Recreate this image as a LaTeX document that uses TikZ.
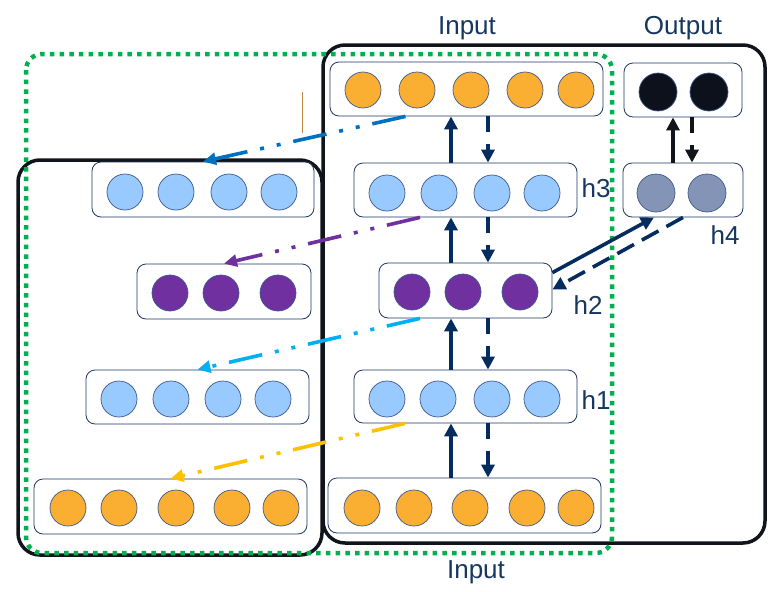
\documentclass[tikz,border=0pt]{standalone}
\usepackage{fontspec}
\setmainfont{Liberation Sans}
\usetikzlibrary{arrows.meta,calc}
\definecolor{orangec}{RGB}{250,174,50}
\definecolor{lbluec}{RGB}{153,202,255}
\definecolor{purplec}{RGB}{112,48,160}
\definecolor{darkc}{RGB}{13,17,28}
\definecolor{greyc}{RGB}{132,148,182}
\definecolor{circc}{RGB}{60,88,138}
\definecolor{boxc}{RGB}{31,56,100}
\definecolor{navyc}{RGB}{4,44,94}
\definecolor{blkc}{RGB}{18,20,28}
\definecolor{greenc}{RGB}{0,176,80}
\definecolor{txtc}{RGB}{23,55,94}
\definecolor{blue1}{RGB}{0,112,192}
\definecolor{blue2}{RGB}{0,176,240}
\definecolor{yellc}{RGB}{255,192,0}
\definecolor{brownc}{RGB}{190,140,60}
\begin{document}
\begin{tikzpicture}[x=1pt,y=-1pt,
  rowbox/.style={draw=boxc, line width=0.8pt, rounded corners=9pt, inner sep=0pt, fill=white},
  neur/.style={circle, draw=circc, line width=0.7pt, minimum size=36pt, inner sep=0pt},
  bigbox/.style={draw=blkc, line width=3.5pt, rounded corners=22pt},
  upar/.style={draw=navyc, line width=3.6pt, -{Triangle[length=13pt,width=13pt]}},
  dnar/.style={upar, dash pattern=on 16pt off 12pt},
  diagdash/.style={draw=navyc, line width=3.6pt, dash pattern=on 19pt off 9pt, -{Triangle[length=13pt,width=13pt]}},
  ddot/.style={line width=3.6pt, dash pattern=on 34pt off 13pt on 4pt off 13pt on 4pt off 13pt, -{Triangle[length=13pt,width=12pt]}},
  lab/.style={text=txtc, font=\fontsize{26}{30}\selectfont, anchor=base, inner sep=0pt}]
\useasboundingbox (0,0) rectangle (769,592);

% big frames
\draw[bigbox] (18,160) rectangle (322,555);
\draw[bigbox] (323,45) rectangle (765,543);
\draw[greenc, line width=4.5pt, dash pattern=on 4.5pt off 5.2pt, rounded corners=16pt] (26,54) rectangle (612,553);

% stray thin line
\draw[brownc, line width=1pt] (302,92) -- (302,133);

% right column rows
\node[rowbox, minimum width=273pt, minimum height=54pt] (inT) at (466.5,89) {};
\foreach \x [count=\i] in {363,417,471,525,576} \node[neur, fill=orangec] (inT\i) at (\x,90) {};
\node[rowbox, minimum width=223pt, minimum height=54pt] (h3) at (465.5,190) {};
\foreach \x [count=\i] in {387,439,492,542} \node[neur, fill=lbluec] (h3\i) at (\x,193) {};
\node[rowbox, minimum width=173pt, minimum height=55pt] (h2) at (465.5,290.5) {};
\foreach \x [count=\i] in {412,463,520} \node[neur, fill=purplec] (h2\i) at (\x,292) {};
\node[rowbox, minimum width=223pt, minimum height=53pt] (h1) at (465.5,396.5) {};
\foreach \x [count=\i] in {387,438,492,542} \node[neur, fill=lbluec] (h1\i) at (\x,399) {};
\node[rowbox, minimum width=273pt, minimum height=55pt] (inB) at (464.5,505.5) {};
\foreach \x [count=\i] in {362,414,470,527,576} \node[neur, fill=orangec] (inB\i) at (\x,508) {};

% output column
\node[rowbox, minimum width=118pt, minimum height=54pt] (out) at (683,90) {};
\foreach \x [count=\i] in {658,709} \node[neur, fill=darkc, minimum size=38pt] (out\i) at (\x,92) {};
\node[rowbox, minimum width=120pt, minimum height=54pt] (h4) at (683,190) {};
\foreach \x [count=\i] in {656,707} \node[neur, fill=greyc, minimum size=38pt] (h4\i) at (\x,193) {};

% left column rows
\node[rowbox, minimum width=222pt, minimum height=55pt] (L3) at (203,189.5) {};
\foreach \x [count=\i] in {125,176,229,279} \node[neur, fill=lbluec] (L3\i) at (\x,192) {};
\node[rowbox, minimum width=174pt, minimum height=55pt] (L2) at (224,291.5) {};
\foreach \x [count=\i] in {170,221,278} \node[neur, fill=purplec] (L2\i) at (\x,293) {};
\node[rowbox, minimum width=223pt, minimum height=54pt] (L1) at (197.5,397) {};
\foreach \x [count=\i] in {119,171,223,273} \node[neur, fill=lbluec] (L1\i) at (\x,399) {};
\node[rowbox, minimum width=273pt, minimum height=55pt] (L0) at (170.5,506.5) {};
\foreach \x [count=\i] in {68,119,176,232,281} \node[neur, fill=orangec] (L0\i) at (\x,508) {};

% vertical arrows
\coordinate (cu) at (451,0);
\coordinate (cd) at (488,0);
\draw[upar] (h3.north -| cu) -- (inT.south -| cu);
\draw[dnar] (inT.south -| cd) -- (h3.north -| cd);
\draw[upar] (h2.north -| cu) -- (h3.south -| cu);
\draw[dnar] (h3.south -| cd) -- (h2.north -| cd);
\draw[upar] (h1.north -| cu) -- (h2.south -| cu);
\draw[dnar] (h2.south -| cd) -- (h1.north -| cd);
\draw[upar] (inB.north -| cu) -- (h1.south -| cu);
\draw[dnar] (h1.south -| cd) -- (inB.north -| cd);
\coordinate (ou) at (673,0);
\coordinate (od) at (692,0);
\draw[upar, draw=blkc] (h4.north -| ou) -- (out.south -| ou);
\draw[dnar, draw=blkc] (out.south -| od) -- (h4.north -| od);

% h2 <-> h4
\draw[upar] ([yshift=-10pt]h2.north east) -- ([xshift=-29pt]h4.south);
\draw[diagdash] (h4.south) -- ([yshift=1pt]h2.east);

% dash-dot reconstruction arrows
\draw[ddot, draw=blue1] ([xshift=-61pt]inT.south) -- (L3.north);
\draw[ddot, draw=purplec] ([xshift=-45.5pt]h3.south) -- (L2.north);
\draw[ddot, draw=blue2] ([xshift=-45.5pt]h2.south) -- (L1.north);
\draw[ddot, draw=yellc] ([xshift=-60.5pt]h1.south) -- (L0.north);

% labels
\node[lab] (tIn) at (467,34) {Input};
\node[lab] (tOut) at (683,34) {Output};
\node[lab] (th3) at (596,197) {h3};
\node[lab] (th4) at (725,244) {h4};
\node[lab] (th2) at (588,314) {h2};
\node[lab] (th1) at (596,409) {h1};
\node[lab] (tInB) at (476,578) {Input};
\end{tikzpicture}
\end{document}
